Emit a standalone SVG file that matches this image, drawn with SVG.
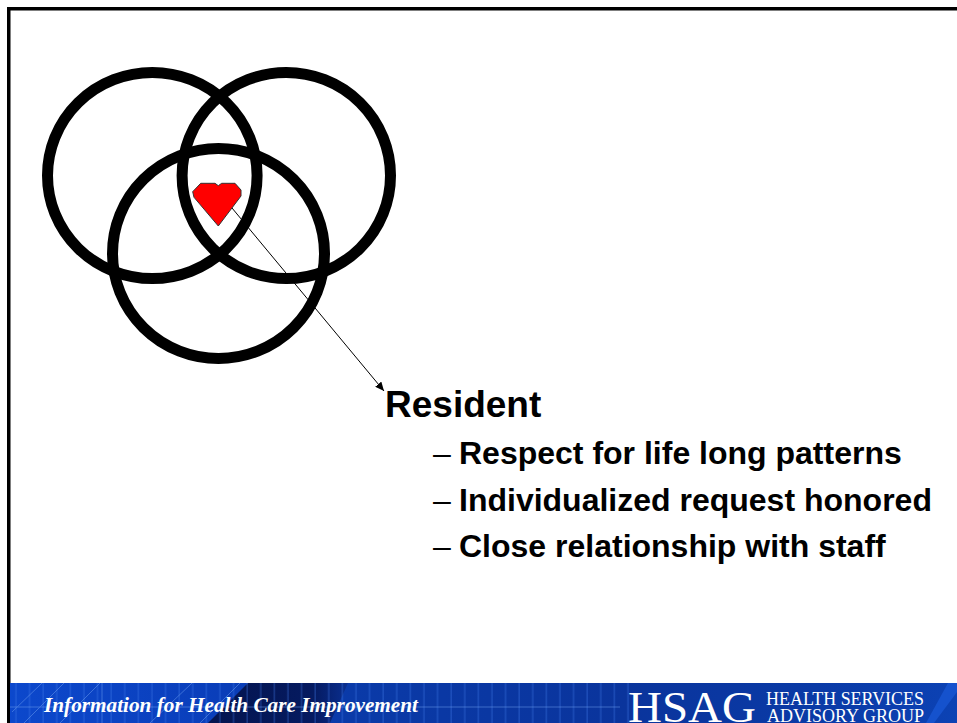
<svg xmlns="http://www.w3.org/2000/svg" width="957" height="723" viewBox="0 0 957 723">
<defs>
<style>
.ring{fill:none;stroke:#000;stroke-width:11}
.sans{font-family:"Liberation Sans",Arial,sans-serif;font-weight:bold;fill:#000}
.b{font-size:37px}
.s{font-size:32px}
.dash{font-family:"Liberation Sans",Arial,sans-serif;font-size:32px;fill:#000}
.serif{font-family:"Liberation Serif","Times New Roman",serif;fill:#fff}
</style>
<linearGradient id="band" x1="0" x2="1" y1="0" y2="0">
<stop offset="0" stop-color="#0c48cc"/>
<stop offset="0.2" stop-color="#0a3fbc"/>
<stop offset="0.36" stop-color="#0a3aa8"/>
<stop offset="0.65" stop-color="#0a349c"/>
<stop offset="0.85" stop-color="#0a3aa6"/>
<stop offset="1" stop-color="#0c42b4"/>
</linearGradient>
<linearGradient id="wedge" x1="0" x2="1" y1="0" y2="0">
<stop offset="0" stop-color="#04144e"/>
<stop offset="0.75" stop-color="#051a60"/>
<stop offset="1" stop-color="#0a2f90"/>
</linearGradient>
<pattern id="grid" width="13.600" height="40" patternUnits="userSpaceOnUse" x="10" y="683">
<line x1="6" y1="0" x2="6" y2="40" stroke="#3f78e8" stroke-width="1.500" opacity="0.35"/>
</pattern>
<marker id="arrow" markerWidth="10" markerHeight="8" refX="9" refY="4" orient="auto" markerUnits="userSpaceOnUse">
<path d="M0 0L9 4L0 8Z" fill="#000"/>
</marker>
</defs>
<rect width="957" height="723" fill="#fff"/>
<path d="M8.750 723V8.750H957" fill="none" stroke="#000" stroke-width="3.500"/>
<g id="banner">
<rect x="10" y="683" width="947" height="40" fill="url(#band)"/>
<polygon points="248,683 348,683 330,723 208,723" fill="url(#wedge)"/>
<rect x="10" y="683" width="620" height="40" fill="url(#grid)"/>
<g stroke="#6f9ff0" stroke-width="1" opacity="0.5" fill="none">
<path d="M12 712L42 683M24 723L64 683M60 723L100 683M150 723L192 683M200 723L240 683M10 707H620"/>
<path d="M102 683V723"/>
</g>
<polygon points="948,683 957,683 957,692 934,723 926,723" fill="#1a5ad8" opacity="0.7"/>
<text class="serif" x="44" y="712" font-size="20" font-style="italic" font-weight="bold" textLength="374" lengthAdjust="spacingAndGlyphs">Information for Health Care Improvement</text>
<text class="serif" x="628" y="722" font-size="45" textLength="128" lengthAdjust="spacingAndGlyphs">HSAG</text>
<text class="serif" x="766" y="705" font-size="18" textLength="158" lengthAdjust="spacingAndGlyphs">HEALTH SERVICES</text>
<text class="serif" x="767" y="722" font-size="18" textLength="157" lengthAdjust="spacingAndGlyphs">ADVISORY GROUP</text>
</g>
<g id="venn-top-left"><ellipse class="ring" cx="152.300" cy="175.500" rx="104.800" ry="103"/></g>
<g id="venn-top-right"><ellipse class="ring" cx="286.300" cy="175.500" rx="104.200" ry="103"/></g>
<g id="venn-bottom"><ellipse class="ring" cx="218.500" cy="253.500" rx="106" ry="105"/></g>
<g id="connectors">
<line x1="232" y1="208" x2="384" y2="391" stroke="#000" stroke-width="1" marker-end="url(#arrow)"/>
</g>
<g id="heart">
<path d="M200.700 183.300H215L218.300 185.700L221.700 183.300H235L241 190V196L218.300 226L194 197.300L192.700 191.700Z" fill="#f00" stroke="#333" stroke-width="1"/>
</g>
<g id="resident-text">
<text class="sans b" x="385" y="417">Resident</text>
<text class="dash" x="433" y="464">–</text>
<text class="sans s" x="459" y="464">Respect for life long patterns</text>
<text class="dash" x="433" y="510.500">–</text>
<text class="sans s" x="459" y="510.500">Individualized request honored</text>
<text class="dash" x="433" y="557">–</text>
<text class="sans s" x="459" y="557">Close relationship with staff</text>
</g>
</svg>
